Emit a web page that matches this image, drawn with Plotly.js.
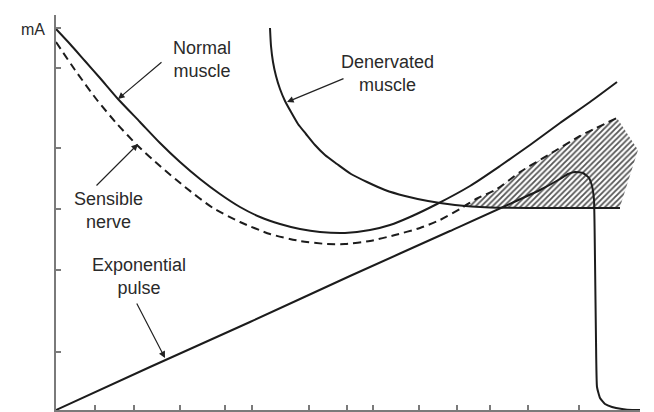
<!DOCTYPE html>
<html>
<head>
<meta charset="utf-8">
<script src="https://cdn.plot.ly/plotly-3.0.1.min.js"></script>
<style>html,body{margin:0;padding:0;background:#fff;}#chart{width:654px;height:412px;}</style>
</head>
<body>
<div id="chart"></div>
<script>
// Curve samples (x: time, y: current in mA, arbitrary units)
const normalX = [0, 14, 29, 44, 62, 84, 104, 124, 144, 164, 184, 204, 224, 244, 264, 289, 314, 334, 354, 381, 414, 444, 474, 504, 534, 561];
const normalY = [381, 366, 349, 332, 311, 288, 267, 248, 231, 216, 203, 193, 186, 181, 178, 177, 180, 185, 193, 206, 224, 244, 265, 287, 308, 328];

const nerveX = [0, 19, 41, 62, 82, 104, 129, 157, 184, 214, 244, 271, 289, 314, 339, 364, 384, 404, 420, 441, 464, 494, 524, 561];
const nerveY = [368, 340, 310, 285, 264, 244, 223, 202, 188, 176, 169, 166, 166, 169, 175, 182, 190, 201, 211, 221, 238, 256, 274, 292];

const denervX = [214, 215, 217, 220, 224, 229, 235, 242, 250, 259, 269, 281, 295, 311, 329, 349, 372, 399, 434, 474, 564];
const denervY = [382, 364, 348, 334, 321, 309, 298, 286, 276, 265, 255, 246, 236, 228, 220, 214, 209, 205, 202.5, 202, 202];

const pulseX = [0, 94, 194, 294, 394, 484, 504, 512, 519, 527, 533, 536, 538, 539, 540, 541, 544, 549, 556, 566, 576, 584];
const pulseY = [0, 43, 88, 134, 179, 220, 231, 236, 238, 237, 232, 224, 210, 150, 70, 23, 12, 6, 3, 1, 0, 0];

// hatched zone between the nerve curve and the denervated curve
const hatchX = [404, 420, 441, 464, 494, 524, 561, 582, 564, 404];
const hatchY = [203, 211, 220, 238, 256, 274, 292, 260, 203, 203];

const xTicks = [39, 78, 124, 169, 196, 253, 291, 317, 363, 401, 434, 472, 523];
const yTicks = [58, 140, 201, 262, 342, 382];

const ink = '#1c1c1c';
const textColor = '#2a2a2a';
const fontFam = 'Liberation Sans, Arial, Helvetica, sans-serif';

const traces = [
  {x: hatchX, y: hatchY, mode: 'lines', fill: 'toself', fillcolor: 'rgba(0,0,0,0)',
   fillpattern: {shape: '/', fgcolor: '#555', bgcolor: '#fff', size: 4, solidity: 0.45},
   line: {width: 0, color: 'rgba(0,0,0,0)'}, hoverinfo: 'skip'},
  {x: normalX, y: normalY, mode: 'lines', line: {color: ink, width: 2, shape: 'spline', smoothing: 0.6}},
  {x: nerveX, y: nerveY, mode: 'lines', line: {color: ink, width: 2, dash: '8px,5px', shape: 'spline', smoothing: 0.6}},
  {x: denervX, y: denervY, mode: 'lines', line: {color: ink, width: 2, shape: 'spline', smoothing: 0.6}},
  {x: pulseX, y: pulseY, mode: 'lines', line: {color: ink, width: 2, shape: 'spline', smoothing: 0.4}}
];

function label(text, x, y) {
  return {text: text, x: x, y: y, xref: 'x', yref: 'y', showarrow: false, xanchor: 'center', yanchor: 'middle',
          font: {family: fontFam, size: 18, color: textColor}, align: 'center'};
}
function arrow(tx, ty, hx, hy) {
  return {x: hx, y: hy, ax: tx, ay: ty, xref: 'x', yref: 'y', axref: 'x', ayref: 'y',
          text: '', showarrow: true, arrowhead: 2, arrowsize: 1.1, arrowwidth: 1.2, arrowcolor: '#222'};
}

const layout = {
  width: 654, height: 412,
  margin: {l: 56, r: 14, t: 15, b: 2},
  paper_bgcolor: '#fff', plot_bgcolor: '#fff',
  showlegend: false,
  xaxis: {range: [0, 584], showgrid: false, zeroline: false, showline: true, linecolor: '#7a7a7a', linewidth: 2,
          tickmode: 'array', tickvals: xTicks, ticktext: xTicks.map(() => ''), ticks: 'inside', ticklen: 5,
          tickcolor: '#7a7a7a', tickwidth: 1.5, fixedrange: true},
  yaxis: {range: [0, 395], showgrid: false, zeroline: false, showline: true, linecolor: '#7a7a7a', linewidth: 2,
          tickmode: 'array', tickvals: yTicks, ticktext: yTicks.map(() => ''), ticks: 'inside', ticklen: 5,
          tickcolor: '#7a7a7a', tickwidth: 1.5, fixedrange: true},
  annotations: [
    label('Normal<br>muscle', 146, 351),
    label('Denervated<br>muscle', 331, 337),
    label('Sensible<br>nerve', 52, 200),
    label('Exponential<br>pulse', 83, 134),
    {text: 'mA', x: -0.039, y: 381, xref: 'paper', yref: 'y', showarrow: false, xanchor: 'center', yanchor: 'middle',
     font: {family: fontFam, size: 16, color: textColor}},
    arrow(107, 349, 62, 311),
    arrow(289, 332, 231, 308),
    arrow(39, 223, 82, 266),
    arrow(80, 108, 109, 52)
  ]
};

Plotly.newPlot('chart', traces, layout, {displayModeBar: false, staticPlot: true});
</script>
</body>
</html>
